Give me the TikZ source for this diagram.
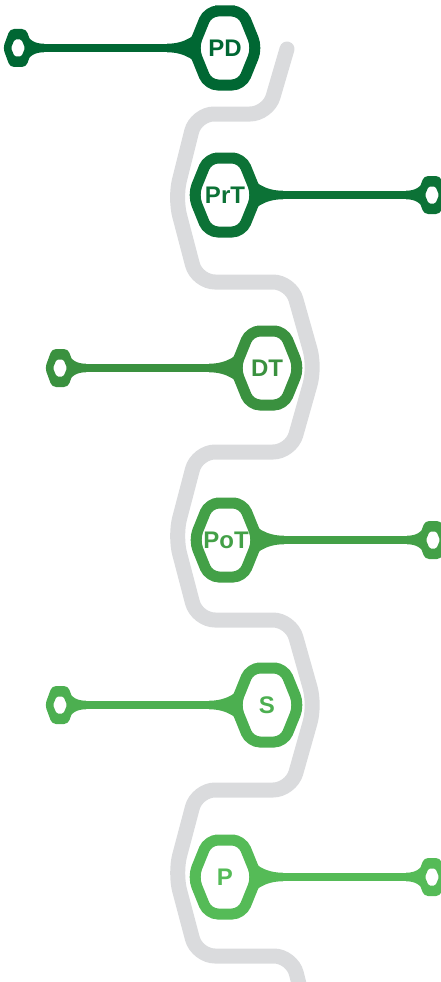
\documentclass[tikz,border=0pt]{standalone}
\usepackage{fontspec}
\setmainfont{Liberation Sans}
\definecolor{pathgray}{HTML}{DADBDD}
\definecolor{cPD}{HTML}{006733}
\definecolor{cPrT}{HTML}{0C7236}
\definecolor{cDT}{HTML}{3A913F}
\definecolor{cPoT}{HTML}{43A047}
\definecolor{cS}{HTML}{4CAF50}
\definecolor{cP}{HTML}{55BB57}
\tikzset{
  graypath/.style={draw=pathgray,line width=15pt,rounded corners=18pt,line cap=round},
  bighex/.style={line width=11pt,rounded corners=10pt},
  stemline/.style={line width=8.5pt},
  hexlabel/.style={font=\bfseries\fontsize{24}{24}\selectfont,inner sep=0pt},
}
\newcommand\hexunit[6]{%
  \begin{scope}[shift={(#2,#3)},xscale=#4]
    \coordinate (#1-a) at (27,0);
    \coordinate (#1-b) at (196,0);
    \coordinate (#1-end) at (207,0);
    \draw[stemline,#5] (#1-a) -- (#1-b);
    \fill[#5] (58,-4.25) .. controls (40,-4.25) and (27,-13) .. (23,-24) -- (27,0) -- (23,24) .. controls (27,13) and (40,4.25) .. (58,4.25) -- cycle;
    \fill[#5] (181,-4.25) .. controls (190,-4.25) and (196,-8) .. (199,-14) -- (195,0) -- (199,14) .. controls (196,8) and (190,4.25) .. (181,4.25) -- cycle;
    \draw[bighex,#5] (0,-37) -- (17,-37) -- (32,0) -- (17,37) -- (-17,37) -- (-32,0) -- (-17,-37) -- cycle;
    \fill[#5,even odd rule]
      [rounded corners=4pt] (207,-19) -- (215,-19) -- (222,0) -- (215,19) -- (199,19) -- (192,0) -- (199,-19) -- cycle
      [rounded corners=1.5pt] (207,-8.5) -- (210.5,-8.5) -- (214,0) -- (210.5,8.5) -- (203.5,8.5) -- (200,0) -- (203.5,-8.5) -- cycle;
  \end{scope}
  \node[hexlabel,text=#5] (#1) at (#2,#3) {#6};
}
\begin{document}
\begin{tikzpicture}[x=1pt,y=-1pt]
  \useasboundingbox (0,0) rectangle (441,982);
  \draw[graypath] (287,49) -- (268,114) -- (196,114) -- (175,198) -- (197,282) -- (291,282)
    -- (315,367) -- (291,452) -- (197,452) -- (175,536) -- (197,620) -- (291,620)
    -- (315,705) -- (291,790) -- (197,790) -- (175,873) -- (197,956) -- (292,956) -- (303,1000);
  \hexunit{pd}{225}{48}{-1}{cPD}{PD}
  \hexunit{prt}{225}{195}{1}{cPrT}{PrT}
  \hexunit{dt}{267}{368}{-1}{cDT}{DT}
  \hexunit{pot}{226}{540}{1}{cPoT}{PoT}
  \hexunit{s}{267}{705}{-1}{cS}{S}
  \hexunit{p}{225}{877}{1}{cP}{P}
\end{tikzpicture}
\end{document}
